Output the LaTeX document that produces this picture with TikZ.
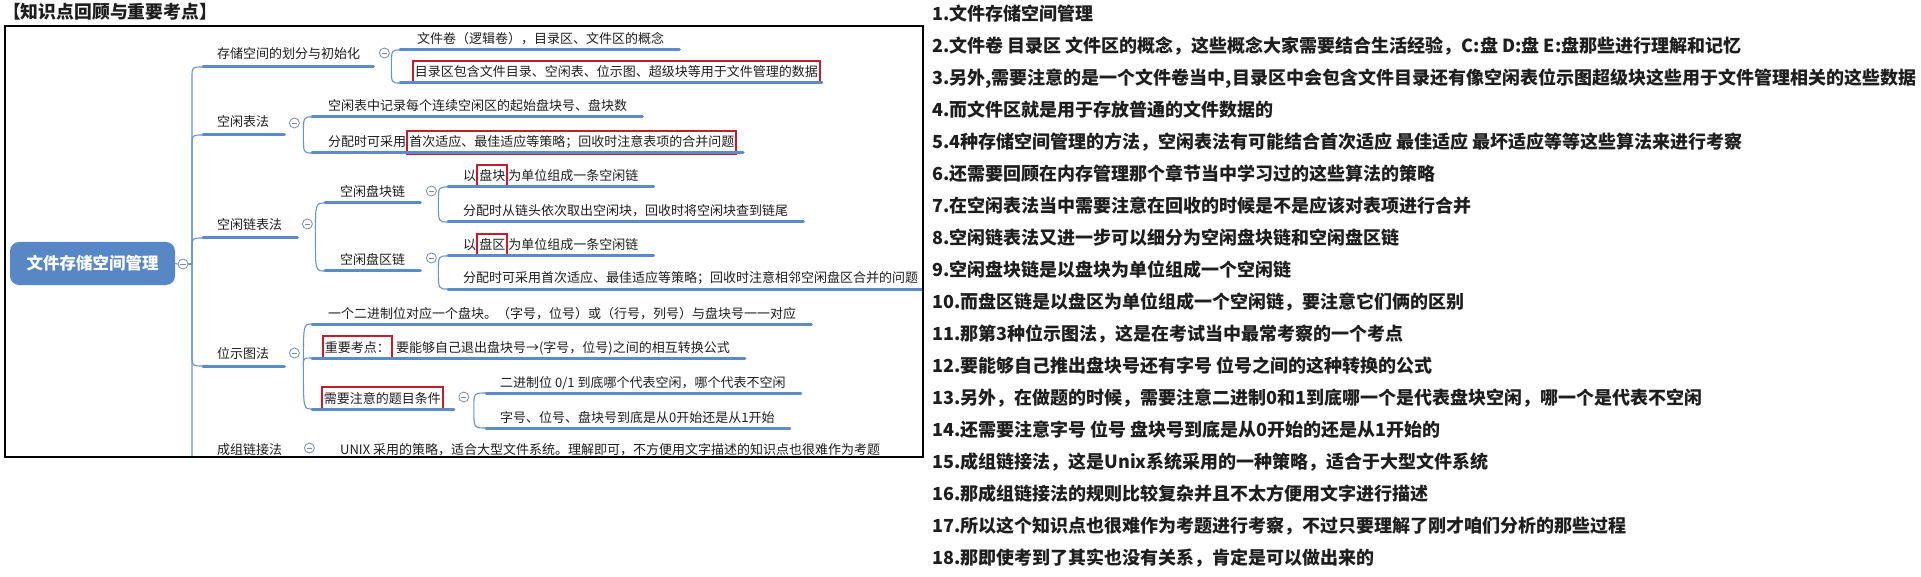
\documentclass[tikz,border=0pt]{standalone}
\usepackage{fontspec}
\setmainfont{Noto Sans CJK SC}
\usetikzlibrary{calc}
\definecolor{ublue}{RGB}{91,139,200}
\definecolor{cblue}{RGB}{104,148,206}
\definecolor{rootblue}{RGB}{88,135,198}
\definecolor{hred}{RGB}{200,28,44}
\definecolor{txt}{RGB}{30,30,30}
\definecolor{btn}{RGB}{120,140,170}
\tikzset{
  uline/.style={ublue, line width=3pt, line cap=round},
  conn/.style={cblue, line width=1.1pt},
  lab/.style={anchor=base west, inner sep=0pt, text=txt, font=\fontsize{13}{13}\selectfont},
  hbox/.style={draw=hred, line width=1.8pt, inner xsep=2pt, inner ysep=5pt},
  note/.style={anchor=base west, inner sep=0pt, text=txt, font=\bfseries\fontsize{18}{18}\selectfont},
  btnc/.style={circle, draw=btn, line width=0.8pt, fill=white, minimum size=10pt, inner sep=0pt,
    path picture={\draw[btn, line width=0.9pt] ([xshift=-2.6pt]path picture bounding box.center) -- ([xshift=2.6pt]path picture bounding box.center);}},
  rootbox/.style={fill=rootblue, rounded corners=9pt, minimum width=165pt, minimum height=43pt, text=white, font=\bfseries\fontsize{16.5}{16.5}\selectfont, inner sep=0pt},
}
\begin{document}
\begin{tikzpicture}[x=1pt,y=-1pt]
\fill[white] (0,0) rectangle (1921,577);
\useasboundingbox (0,0) rectangle (1921,577);
\node[anchor=west, inner sep=0pt, text=txt, font=\bfseries\fontsize{17.8}{17.8}\selectfont] (title) at (3,12) {【知识点回顾与重要考点】};

\begin{scope}
\clip (5,26) rectangle (923,457);
% root
\node[rootbox] (root) at (92.5,263.5) {文件存储空间管理};
\node[btnc] (rb) at (183,264) {};
\coordinate (T) at (192,264);
\draw[conn] (root.east) -- (rb.west);

% ---------- A
\coordinate (As) at (203,67);
\node[lab] (A) at (217,59) {存储空间的划分与初始化};
\coordinate (Ae) at ($(A.base east)+(13,8)$);
\draw[uline] (As) -- (Ae);
\draw[conn] (rb.east) -- (T) -- ($(T|-As)+(0,10)$) .. controls (T|-As) .. (As);
\node[btnc] (Ab) at ($(Ae)+(11,-14)$) {};
\coordinate (Af) at ($(Ae)+(18,0)$);

\coordinate (A1s) at (400,50);
\node[lab] (A1) at (417,44) {文件卷（逻辑卷），目录区、文件区的概念};
\draw[uline] (A1s) -- ($(A1.base east)+(15,6)$);
\draw[conn] (Af) .. controls (Af|-A1s) .. (A1s);

\coordinate (A2s) at (400,83);
\node[lab,hbox] (A2) at (412,77) {目录区包含文件目录、空闲表、位示图、超级块等用于文件管理的数据};
\draw[uline] (A2s) -- ($(A2.base east)+(1,6)$);
\draw[conn] (Af) .. controls (Af|-A2s) .. (A2s);

% ---------- B
\coordinate (Bs) at (203,135);
\node[lab] (B) at (217,127) {空闲表法};
\coordinate (Be) at ($(B.base east)+(15,8)$);
\draw[uline] (Bs) -- (Be);
\draw[conn] (rb.east) -- (T) -- ($(T|-Bs)+(0,10)$) .. controls (T|-Bs) .. (Bs);
\node[btnc] (Bb) at ($(Be)+(10,-12)$) {};
\coordinate (Bf) at ($(Be)+(19,0)$);

\coordinate (B1s) at (312,117);
\node[lab] (B1) at (328,111) {空闲表中记录每个连续空闲区的起始盘块号、盘块数};
\draw[uline] (B1s) -- ($(B1.base east)+(15,6)$);
\draw[conn] (Bf) .. controls (Bf|-B1s) .. (B1s);

\coordinate (B2s) at (312,153);
\node[lab] (B2a) at (328,147) {分配时可采用};
\node[lab,hbox] (B2b) at (B2a.base east) {首次适应、最佳适应等策略；回收时注意表项的合并问题};
\draw[uline] (B2s) -- ($(B2b.base east)+(6,6)$);
\draw[conn] (Bf) .. controls (Bf|-B2s) .. (B2s);

% ---------- C
\coordinate (Cs) at (203,238);
\node[lab] (C) at (217,230) {空闲链表法};
\coordinate (Ce) at ($(C.base east)+(15,8)$);
\draw[uline] (Cs) -- (Ce);
\draw[conn] (rb.east) -- (T) -- ($(T|-Cs)+(0,10)$) .. controls (T|-Cs) .. (Cs);
\node[btnc] (Cb) at ($(Ce)+(10,-14)$) {};
\coordinate (Cf) at ($(Ce)+(18,0)$);

\coordinate (C1s) at (325,203);
\node[lab] (C1) at (340,197) {空闲盘块链};
\coordinate (C1e) at ($(C1.base east)+(15,6)$);
\draw[uline] (C1s) -- (C1e);
\draw[conn] (Cf) .. controls (Cf|-C1s) .. (C1s);
\node[btnc] (C1b) at ($(C1e)+(11,-12)$) {};
\coordinate (C1f) at ($(C1e)+(18,0)$);

\coordinate (C1as) at (448,187);
\node[lab] (C1a1) at (463,181) {以};
\node[lab,hbox] (C1a2) at (C1a1.base east) {盘块};
\node[lab] (C1a3) at (C1a2.base east) {为单位组成一条空闲链};
\draw[uline] (C1as) -- ($(C1a3.base east)+(15,6)$);
\draw[conn] (C1f) .. controls (C1f|-C1as) .. (C1as);

\coordinate (C1bs) at (448,222);
\node[lab] (C1bt) at (463,216) {分配时从链头依次取出空闲块，回收时将空闲块查到链尾};
\draw[uline] (C1bs) -- ($(C1bt.base east)+(15,6)$);
\draw[conn] (C1f) .. controls (C1f|-C1bs) .. (C1bs);

\coordinate (C2s) at (325,271);
\node[lab] (C2) at (340,265) {空闲盘区链};
\coordinate (C2e) at ($(C2.base east)+(15,6)$);
\draw[uline] (C2s) -- (C2e);
\draw[conn] (Cf) .. controls (Cf|-C2s) .. (C2s);
\node[btnc] (C2b) at ($(C2e)+(11,-13)$) {};
\coordinate (C2f) at ($(C2e)+(18,0)$);

\coordinate (C2as) at (448,256);
\node[lab] (C2a1) at (463,250) {以};
\node[lab,hbox] (C2a2) at (C2a1.base east) {盘区};
\node[lab] (C2a3) at (C2a2.base east) {为单位组成一条空闲链};
\draw[uline] (C2as) -- ($(C2a3.base east)+(15,6)$);
\draw[conn] (C2f) .. controls (C2f|-C2as) .. (C2as);

\coordinate (C2bs) at (448,289);
\node[lab] (C2bt) at (463,283) {分配时可采用首次适应、最佳适应等策略；回收时注意相邻空闲盘区合并的问题};
\draw[uline] (C2bs) -- ($(C2bt.base east)+(15,6)$);
\draw[conn] (C2f) .. controls (C2f|-C2bs) .. (C2bs);

% ---------- D
\coordinate (Ds) at (203,366);
\node[lab] (D) at (217,358) {位示图法};
\coordinate (De) at ($(D.base east)+(15,8)$);
\draw[uline] (Ds) -- (De);
\draw[conn] (rb.east) -- (T) -- ($(T|-Ds)+(0,-10)$) .. controls (T|-Ds) .. (Ds);
\node[btnc] (Db) at ($(De)+(10,-13)$) {};
\coordinate (Df) at ($(De)+(19,0)$);

\coordinate (D1s) at (312,324);
\node[lab] (D1) at (328,318) {一个二进制位对应一个盘块。（字号，位号）或（行号，列号）与盘块号一一对应};
\draw[uline] (D1s) -- ($(D1.base east)+(15,6)$);
\draw[conn] (Df) .. controls (Df|-D1s) .. (D1s);

\coordinate (D2s) at (312,358);
\node[lab,hbox] (D2a) at (322,352) {重要考点：};
\node[lab] (D2b) at ($(D2a.base east)+(3,0)$) {要能够自己退出盘块号→(字号，位号)之间的相互转换公式};
\draw[uline] (D2s) -- ($(D2b.base east)+(15,6)$);
\draw[conn] (Df) .. controls (Df|-D2s) .. (D2s);

\coordinate (D3s) at (312,409);
\node[lab,hbox] (D3) at (321,403) {需要注意的题目条件};
\coordinate (D3e) at ($(D3.base east)+(10,6)$);
\draw[uline] (D3s) -- (D3e);
\draw[conn] (Df) .. controls (Df|-D3s) .. (D3s);
\node[btnc] (D3b) at ($(D3e)+(10,-12)$) {};
\coordinate (D3f) at ($(D3e)+(20,0)$);

\coordinate (D3as) at (486,393);
\node[lab] (D3a) at (500,387) {二进制位 0/1 到底哪个代表空闲，哪个代表不空闲};
\draw[uline] (D3as) -- ($(D3a.base east)+(15,6)$);
\draw[conn] (D3f) .. controls (D3f|-D3as) .. (D3as);

\coordinate (D3bs) at (486,428);
\node[lab] (D3bt) at (500,422) {字号、位号、盘块号到底是从0开始还是从1开始};
\draw[uline] (D3bs) -- ($(D3bt.base east)+(15,6)$);
\draw[conn] (D3f) .. controls (D3f|-D3bs) .. (D3bs);

% ---------- E
\coordinate (Es) at (203,462);
\node[lab] (E) at (217,454) {成组链接法};
\coordinate (Ee) at ($(E.base east)+(15,8)$);
\draw[uline] (Es) -- (Ee);
\draw[conn] (rb.east) -- (T) -- ($(T|-Es)+(0,-10)$) .. controls (T|-Es) .. (Es);
\node[btnc] (Eb) at ($(Ee)+(12,-14)$) {};
\coordinate (Ef) at ($(Ee)+(19,0)$);

\coordinate (E1s) at (325,462);
\node[lab] (E1) at (340,454) {UNIX 采用的策略，适合大型文件系统。理解即可，不方便用文字描述的知识点也很难作为考题};
\draw[uline] (E1s) -- ($(E1.base east)+(15,8)$);
\draw[conn] (Ef) -- (E1s);
\end{scope}

\draw[black, line width=1.3pt] (5,26) rectangle (923,457);

% ---------- notes
\node[note] (n1) at (932,20.5) {1.文件存储空间管理};
\node[note] (n2) at (932,52.5) {2.文件卷 目录区 文件区的概念，这些概念大家需要结合生活经验，C:盘 D:盘 E:盘那些进行理解和记忆};
\node[note] (n3) at (932,84.5) {3.另外,需要注意的是一个文件卷当中,目录区中会包含文件目录还有像空闲表位示图超级块这些用于文件管理相关的这些数据};
\node[note] (n4) at (932,116.5) {4.而文件区就是用于存放普通的文件数据的};
\node[note] (n5) at (932,148.5) {5.4种存储空间管理的方法，空闲表法有可能结合首次适应 最佳适应 最坏适应等等这些算法来进行考察};
\node[note] (n6) at (932,180.5) {6.还需要回顾在内存管理那个章节当中学习过的这些算法的策略};
\node[note] (n7) at (932,212.5) {7.在空闲表法当中需要注意在回收的时候是不是应该对表项进行合并};
\node[note] (n8) at (932,244.5) {8.空闲链表法又进一步可以细分为空闲盘块链和空闲盘区链};
\node[note] (n9) at (932,276.5) {9.空闲盘块链是以盘块为单位组成一个空闲链};
\node[note] (n10) at (932,308.5) {10.而盘区链是以盘区为单位组成一个空闲链，要注意它们俩的区别};
\node[note] (n11) at (932,340.5) {11.那第3种位示图法，这是在考试当中最常考察的一个考点};
\node[note] (n12) at (932,372.5) {12.要能够自己推出盘块号还有字号 位号之间的这种转换的公式};
\node[note] (n13) at (932,404.5) {13.另外，在做题的时候，需要注意二进制0和1到底哪一个是代表盘块空闲，哪一个是代表不空闲};
\node[note] (n14) at (932,436.5) {14.还需要注意字号 位号 盘块号到底是从0开始的还是从1开始的};
\node[note] (n15) at (932,468.5) {15.成组链接法，这是Unix系统采用的一种策略，适合于大型文件系统};
\node[note] (n16) at (932,500.5) {16.那成组链接法的规则比较复杂并且不太方便用文字进行描述};
\node[note] (n17) at (932,532.5) {17.所以这个知识点也很难作为考题进行考察，不过只要理解了刚才咱们分析的那些过程};
\node[note] (n18) at (932,564.5) {18.那即使考到了其实也没有关系，肯定是可以做出来的};
\end{tikzpicture}
\end{document}
